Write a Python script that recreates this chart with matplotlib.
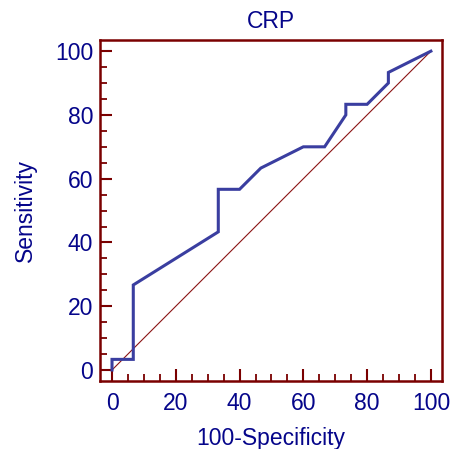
import matplotlib
matplotlib.use("Agg")
import matplotlib.pyplot as plt
from matplotlib.ticker import MultipleLocator

# ROC points (100-specificity, sensitivity)
fpr = [0, 0, 6.67, 6.67, 33.33, 33.33, 40, 46.67, 60, 66.67, 73.33, 73.33, 80, 86.67, 86.67, 100]
tpr = [0, 3.33, 3.33, 26.67, 43.33, 56.67, 56.67, 63.33, 70, 70, 80, 83.33, 83.33, 90, 93.33, 100]
diag = [0, 100]

frame_col = '#7a0000'
text_col = '#05058a'
curve_col = '#3a3ea0'

plt.rcParams['font.family'] = ['Liberation Sans', 'DejaVu Sans']

fig = plt.figure(figsize=(4.5, 4.49), dpi=100)
ax = fig.add_axes([0.2222, 0.1521, 0.9816 - 0.2222, 0.9109 - 0.1521])

ax.plot(diag, diag, color='#8b1414', lw=0.8)
ax.plot(fpr, tpr, color=curve_col, lw=2.2, solid_joinstyle='miter')

ax.set_xlim(-3.77, 103.4)
ax.set_ylim(-3.36, 103.5)
ax.xaxis.set_major_locator(MultipleLocator(20))
ax.xaxis.set_minor_locator(MultipleLocator(5))
ax.yaxis.set_major_locator(MultipleLocator(20))
ax.yaxis.set_minor_locator(MultipleLocator(5))

for s in ax.spines.values():
    s.set_color(frame_col)
    s.set_linewidth(1.8)

ax.tick_params(which='major', direction='in', length=8.6, width=1.5, color=frame_col,
               labelcolor=text_col, labelsize=16.5, pad=5)
ax.tick_params(which='minor', direction='in', length=5, width=1.3, color=frame_col)
ax.tick_params(axis='x', which='major', pad=8)

ax.set_title('CRP', color=text_col, fontsize=16.5, pad=9)
ax.set_xlabel('100-Specificity', color=text_col, fontsize=16.5, labelpad=9)
ax.set_ylabel('Sensitivity', color=text_col, fontsize=16.5, labelpad=13)

fig.savefig('out.png', dpi=100)
